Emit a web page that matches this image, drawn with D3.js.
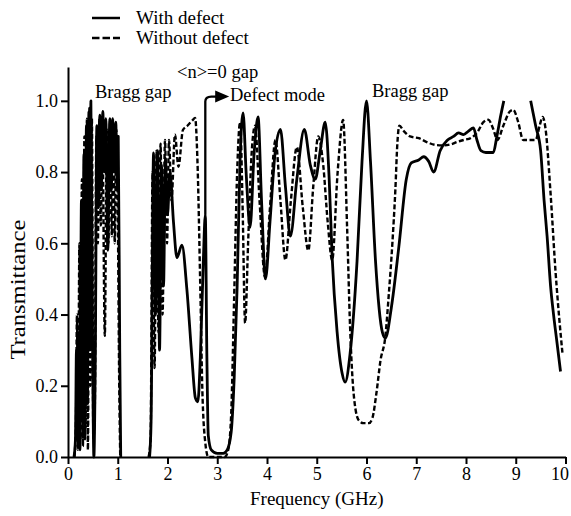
<!DOCTYPE html>
<html>
<head>
<meta charset="utf-8">
<script src="https://cdn.jsdelivr.net/npm/d3@7"></script>
<style>
  html, body { margin: 0; padding: 0; background: #fff; }
  svg { display: block; }
  text { font-family: "Liberation Serif", "Times New Roman", serif; fill: #000; }
</style>
</head>
<body>
<svg id="chart" width="571" height="516"></svg>
<script>
// Transmission spectra: [frequency (GHz), transmittance]; null marks a break in the trace
const withDefect = [
  [0.12,0],[0.15,0.05],[0.17,0.30],[0.19,0.05],[0.22,0.35],[0.24,0.02],[0.27,0.72],[0.29,0.10],
  [0.32,0.85],[0.34,0.05],[0.37,0.93],[0.39,0.15],[0.42,0.97],[0.44,0.30],[0.46,1.0],[0.49,0.40],
  [0.52,0.0],[0.55,0.30],[0.58,0.93],[0.61,0.70],[0.64,0.96],[0.67,0.75],[0.70,0.97],[0.73,0.80],
  [0.76,0.95],[0.80,0.58],[0.84,0.95],[0.87,0.75],[0.90,0.95],[0.93,0.80],[0.96,0.94],[0.99,0.75],
  [1.01,0.90],[1.04,0.30],[1.06,0.0],[1.08,null],[1.60,null],
  [1.64,0],[1.67,0.10],[1.72,0.854],[1.76,0.40],[1.80,0.86],[1.84,0.30],[1.88,0.82],[1.92,0.48],
  [1.96,0.84],[2.00,0.68],[2.05,0.80],[2.12,0.66],[2.19,0.56],[2.29,0.595],[2.39,0.47],[2.49,0.28],
  [2.56,0.166],[2.61,0.155],[2.66,0.28],[2.72,0.55],[2.76,0.68],[2.79,0.30],[2.82,0.06],[2.88,0.02],
  [3.00,0.01],[3.12,0.01],[3.20,0.02],[3.28,0.07],[3.34,0.22],[3.40,0.48],[3.46,0.84],[3.52,0.966],
  [3.58,0.80],[3.66,0.645],[3.74,0.85],[3.82,0.955],[3.89,0.72],[3.97,0.50],[4.06,0.66],[4.16,0.85],
  [4.27,0.92],[4.37,0.76],[4.47,0.62],[4.60,0.78],[4.75,0.92],[4.87,0.82],[4.97,0.78],[5.07,0.86],
  [5.17,0.94],[5.25,0.78],[5.31,0.56],[5.41,0.35],[5.51,0.235],[5.57,0.21],[5.67,0.29],[5.81,0.55],
  [5.91,0.83],[6.00,1.0],[6.08,0.83],[6.18,0.553],[6.32,0.35],[6.38,0.334],[6.50,0.42],[6.65,0.59],
  [6.80,0.78],[6.90,0.826],[7.05,0.834],[7.15,0.843],[7.25,0.83],[7.35,0.80],[7.48,0.86],[7.63,0.89],
  [7.75,0.90],[7.85,0.91],[7.95,0.905],[8.05,0.915],[8.15,0.924],[8.22,0.89],[8.30,0.86],[8.40,0.855],
  [8.55,0.855],[8.62,0.90],[8.70,0.96],[8.76,1.0],[8.80,null],[9.28,null],
  [9.30,1.0],[9.40,0.93],[9.50,0.86],[9.57,0.72],[9.63,0.62],[9.70,0.48],[9.76,0.40],[9.83,0.32],
  [9.90,0.24]
];

const withoutDefect = [
  [0.13,0],[0.16,0.10],[0.18,0.40],[0.20,0.02],[0.23,0.60],[0.25,0.05],[0.28,0.78],[0.30,0.03],
  [0.33,0.90],[0.35,0.08],[0.38,0.95],[0.40,0.02],[0.43,0.98],[0.45,0.20],[0.48,0.95],[0.51,0.05],
  [0.54,0.15],[0.57,0.90],[0.60,0.60],[0.63,0.95],[0.66,0.65],[0.69,0.93],[0.74,0.34],[0.78,0.92],
  [0.81,0.60],[0.85,0.94],[0.88,0.62],[0.91,0.93],[0.94,0.60],[0.97,0.92],[1.00,0.70],[1.03,0.20],
  [1.05,0.0],[1.07,null],[1.60,null],
  [1.62,0],[1.66,0.05],[1.70,0.80],[1.74,0.25],[1.78,0.86],[1.82,0.35],[1.86,0.88],[1.90,0.40],
  [1.95,0.89],[1.99,0.60],[2.03,0.89],[2.08,0.72],[2.15,0.905],[2.22,0.815],[2.31,0.918],[2.40,0.93],
  [2.50,0.945],[2.555,0.952],[2.60,0.84],[2.66,0.47],[2.70,0.19],[2.76,0.04],[2.82,0.0],[3.15,0.0],
  [3.22,0.02],[3.28,0.12],[3.34,0.45],[3.40,0.80],[3.46,0.94],[3.51,0.70],[3.56,0.376],[3.62,0.60],
  [3.69,0.85],[3.76,0.93],[3.85,0.72],[3.96,0.505],[4.06,0.70],[4.17,0.89],[4.27,0.72],[4.37,0.553],
  [4.48,0.72],[4.60,0.87],[4.72,0.70],[4.83,0.58],[4.93,0.76],[5.03,0.90],[5.13,0.82],[5.22,0.66],
  [5.31,0.553],[5.42,0.80],[5.53,0.946],[5.61,0.645],[5.67,0.365],[5.74,0.18],[5.84,0.104],[5.94,0.095],
  [6.05,0.095],[6.12,0.11],[6.20,0.18],[6.28,0.27],[6.38,0.34],[6.45,0.46],[6.52,0.60],[6.58,0.75],
  [6.62,0.88],[6.66,0.93],[6.75,0.915],[6.88,0.90],[7.05,0.895],[7.20,0.885],[7.40,0.876],[7.55,0.875],
  [7.70,0.878],[7.83,0.885],[7.95,0.89],[8.10,0.896],[8.22,0.91],[8.35,0.94],[8.45,0.947],[8.55,0.92],
  [8.63,0.89],[8.75,0.93],[8.88,0.97],[8.95,0.975],[9.05,0.94],[9.15,0.89],[9.30,0.89],[9.40,0.89],
  [9.48,0.93],[9.54,0.955],[9.60,0.92],[9.70,0.74],[9.80,0.52],[9.88,0.38],[9.94,0.29]
];

const xTicks = [0,1,2,3,4,5,6,7,8,9,10];
const yTicks = [0.0,0.2,0.4,0.6,0.8,1.0];
const seriesNames = ["With defect", "Without defect"];
const gapLabels = ["Bragg gap", "<n>=0 gap", "Defect mode", "Bragg gap"];
const defectPeak = [2.76, 0.68];

const svg = d3.select("#chart");
svg.append("rect").attr("width", 571).attr("height", 516).attr("fill", "#fff");

const x = d3.scaleLinear().domain([0, 10]).range([68, 565.5]);
const y = d3.scaleLinear().domain([0, 1.095]).range([457, 67]);

const line = d3.line()
  .defined(d => d[1] != null)
  .x(d => x(d[0]))
  .y(d => y(d[1]))
  .curve(d3.curveMonotoneX);

// curves
svg.append("path")
  .datum(withoutDefect)
  .attr("d", line)
  .attr("fill", "none")
  .attr("stroke", "#000")
  .attr("stroke-width", 2.4)
  .attr("stroke-dasharray", "5,2.5");

svg.append("path")
  .datum(withDefect)
  .attr("d", line)
  .attr("fill", "none")
  .attr("stroke", "#000")
  .attr("stroke-width", 2.8)
  .attr("stroke-linejoin", "round");

// axes
const xAxis = svg.append("g")
  .attr("transform", `translate(0,${y(0)})`)
  .call(d3.axisBottom(x).tickValues(xTicks).tickFormat(d3.format("d"))
    .tickSize(7).tickSizeOuter(0).tickPadding(3));

const yAxis = svg.append("g")
  .attr("transform", `translate(${x(0)},0)`)
  .call(d3.axisLeft(y).tickValues(yTicks).tickFormat(d3.format(".1f"))
    .tickSize(7).tickSizeOuter(0).tickPadding(3));

[xAxis, yAxis].forEach(g => {
  g.select(".domain").attr("stroke", "#000").attr("stroke-width", 2);
  g.selectAll(".tick line").attr("stroke", "#000").attr("stroke-width", 2);
  g.selectAll(".tick text")
    .attr("font-family", '"Liberation Serif", "Times New Roman", serif')
    .attr("font-size", 18).attr("fill", "#000");
});
// the last frequency label sits flush with the end of the axis
xAxis.selectAll(".tick text").filter(d => d === 10)
  .attr("text-anchor", "end").attr("x", 3);

// axis titles
svg.append("text")
  .attr("x", x(5)).attr("y", 505)
  .attr("text-anchor", "middle").attr("font-size", 19)
  .text("Frequency (GHz)");

svg.append("text")
  .attr("transform", `translate(25,${y(0.47)}) rotate(-90)`)
  .attr("text-anchor", "middle").attr("font-size", 20)
  .attr("textLength", 140).attr("lengthAdjust", "spacingAndGlyphs")
  .text("Transmittance");

// legend
const legend = svg.append("g");
seriesNames.forEach((name, i) => {
  const ly = 18 + i * 20;
  legend.append("line")
    .attr("x1", 92).attr("x2", 120).attr("y1", ly).attr("y2", ly)
    .attr("stroke", "#000").attr("stroke-width", 2.5)
    .attr("stroke-dasharray", i === 1 ? "7.5,3" : null);
  legend.append("text")
    .attr("x", 136).attr("y", ly + 6)
    .attr("font-size", 19)
    .text(name);
});

// gap annotations
svg.append("text").attr("x", 95).attr("y", 98).attr("font-size", 18.5).text(gapLabels[0]);
svg.append("text").attr("x", 177).attr("y", 78).attr("font-size", 18.5).text(gapLabels[1]);
svg.append("text").attr("x", 230).attr("y", 101).attr("font-size", 18.5).text(gapLabels[2]);
svg.append("text").attr("x", 372).attr("y", 97).attr("font-size", 18.5).text(gapLabels[3]);

// arrow from the defect-mode peak to its label
const ax = x(defectPeak[0]);
const topY = y(1.012);
svg.append("path")
  .attr("d", `M${ax},${y(defectPeak[1])} L${ax},${topY + 5} Q${ax},${topY} ${ax + 6},${topY} L${x(3.0)},${topY}`)
  .attr("fill", "none").attr("stroke", "#000").attr("stroke-width", 2.3);
const tipX = x(3.24);
svg.append("path")
  .attr("d", `M${tipX},${topY} L${tipX - 14},${topY - 6} L${tipX - 14},${topY + 6} Z`)
  .attr("fill", "#000");
</script>
</body>
</html>
